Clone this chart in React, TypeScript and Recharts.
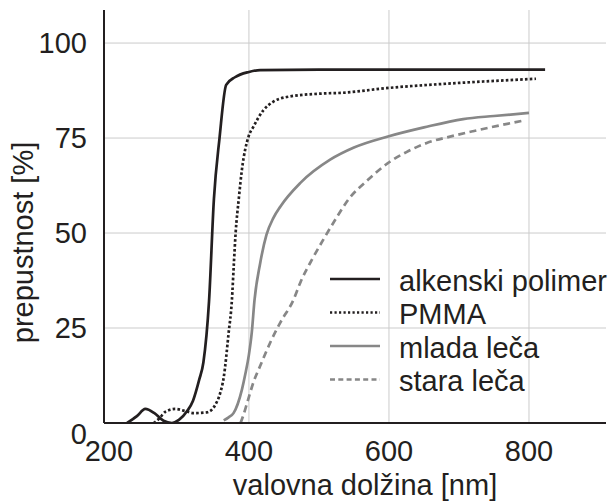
import { LineChart, Line, XAxis, YAxis, CartesianGrid, Legend } from "recharts";

// transmittance curves (wavelength nm, %)
const alkenskiNm = [226, 240, 252, 265, 278, 290, 300, 312, 320, 329, 335, 343, 350, 358, 367.5, 380, 400, 416, 500, 600, 700, 823];
const alkenskiPct = [0, 1.8, 3.7, 2.6, 0.6, 0, 0.8, 3.2, 5.8, 11.4, 16, 32, 59, 75, 89, 91, 92.4, 92.9, 93, 93, 93, 93];

const pmmaNm = [264, 272, 281, 295, 308, 321, 340, 352, 359, 364, 371, 375.7, 378.5, 381, 385.5, 390, 399.5, 406.5, 421, 435, 454, 503, 532, 600, 700, 810];
const pmmaPct = [0, 1.2, 3, 3.7, 3.2, 2.6, 2.8, 4.8, 7.9, 12, 23.7, 32.4, 42, 50, 59, 66.7, 75.4, 78, 82.4, 84.6, 85.8, 86.7, 86.9, 88.2, 89.5, 90.6];

const mladaNm = [364, 371, 378, 390, 395, 400, 404, 408, 416, 425, 435, 445, 473.5, 516, 550, 598.5, 650, 706, 750, 800];
const mladaPct = [0.7, 1.5, 2.6, 8.8, 13, 18, 23.7, 32.4, 42, 49.5, 54, 57, 63.2, 69.3, 72.5, 75.4, 77.8, 80, 80.8, 81.6];

const staraNm = [388, 392, 397, 407, 416, 430, 445, 463.6, 473.5, 490, 507, 525, 542, 570, 598.5, 625, 654, 690, 720, 755, 792];
const staraPct = [0, 2, 5, 11, 15, 21, 26.5, 32.4, 37, 43, 48.5, 54, 58.8, 64, 68.4, 71.3, 73.7, 75.5, 76.8, 78.2, 79.6];

const xTicks = [200, 400, 600, 800];
const yTicks = [0, 25, 50, 75, 100];

const INK = "#231f20";
const GREY = "#878787";
const FONT = "'Liberation Sans', Arial, Helvetica, sans-serif";

const toPoints = (xs: number[], ys: number[]) => xs.map((x, i) => ({ x, y: ys[i] }));

const series = [
  { name: "alkenski polimer", data: toPoints(alkenskiNm, alkenskiPct), color: INK, dash: undefined, legendDash: undefined },
  { name: "PMMA", data: toPoints(pmmaNm, pmmaPct), color: INK, dash: "2.6 2.2", legendDash: "2.2 2.3" },
  { name: "mlada leča", data: toPoints(mladaNm, mladaPct), color: GREY, dash: undefined, legendDash: undefined },
  { name: "stara leča", data: toPoints(staraNm, staraPct), color: GREY, dash: "7 4.5", legendDash: "5 3.3" },
];

function YTick(props: any) {
  const { x, y, payload } = props;
  // the "0" sits a little below its grid line in the original
  const shift = payload.value === 0 ? 11 : 0;
  return (
    <text x={x} y={y + shift} dy="0.355em" textAnchor="end" fill={INK} fontSize={29} fontFamily={FONT}>
      {payload.value}
    </text>
  );
}

function LegendBox() {
  return (
    <svg width={283} height={140}>
      {series.map((s, i) => {
        const cy = 17 + i * 33.5;
        return (
          <g key={s.name}>
            <line x1={0} x2={50} y1={cy} y2={cy} stroke={s.color} strokeWidth={2.7} strokeDasharray={s.legendDash} />
            <text x={69} y={cy + 11.5} fill={INK} fontSize={29} fontFamily={FONT}>
              {s.name}
            </text>
          </g>
        );
      })}
    </svg>
  );
}

export default function App() {
  return (
    <div style={{ position: "absolute", left: 0, top: 0, background: "#fff" }}>
      <LineChart width={613} height={501} margin={{ top: 10, right: 7, left: 0, bottom: 0 }}>
        <CartesianGrid
          stroke="#cbcbcb"
          strokeWidth={1}
          horizontalValues={[25, 50, 75, 100]}
          verticalValues={[400, 600, 800]}
        />
        <XAxis
          dataKey="x"
          type="number"
          domain={[193, 910]}
          ticks={xTicks}
          allowDataOverflow
          height={78}
          tickLine={false}
          tickMargin={11}
          axisLine={{ stroke: INK, strokeWidth: 2 }}
          tick={{ fill: INK, fontSize: 29, fontFamily: FONT }}
          label={{
            value: "valovna dolžina [nm]",
            content: (p: any) => (
              <text
                x={p.viewBox.x + p.viewBox.width / 2 + 10}
                y={495}
                textAnchor="middle"
                fill={INK}
                fontSize={29}
                fontFamily={FONT}
              >
                valovna dolžina [nm]
              </text>
            ),
          }}
        />
        <YAxis
          type="number"
          domain={[0, 108.7]}
          ticks={yTicks}
          allowDataOverflow
          width={104}
          tickLine={false}
          tickMargin={11}
          axisLine={{ stroke: INK, strokeWidth: 2 }}
          tick={<YTick />}
          label={{
            value: "prepustnost [%]",
            content: (p: any) => {
              const cy = p.viewBox.y + p.viewBox.height / 2 + 26;
              return (
                <text
                  x={33}
                  y={cy}
                  transform={`rotate(-90 33 ${cy})`}
                  textAnchor="middle"
                  fill={INK}
                  fontSize={29}
                  fontFamily={FONT}
                >
                  prepustnost [%]
                </text>
              );
            },
          }}
        />
        {series.map((s) => (
          <Line
            key={s.name}
            data={s.data}
            dataKey="y"
            name={s.name}
            type="monotone"
            stroke={s.color}
            strokeWidth={2.7}
            strokeDasharray={s.dash}
            dot={false}
            activeDot={false}
            isAnimationActive={false}
          />
        ))}
        <Legend
          layout="vertical"
          align="center"
          verticalAlign="middle"
          content={() => <LegendBox />}
          wrapperStyle={{ left: 330, top: 262, width: 283 }}
        />
      </LineChart>
    </div>
  );
}
